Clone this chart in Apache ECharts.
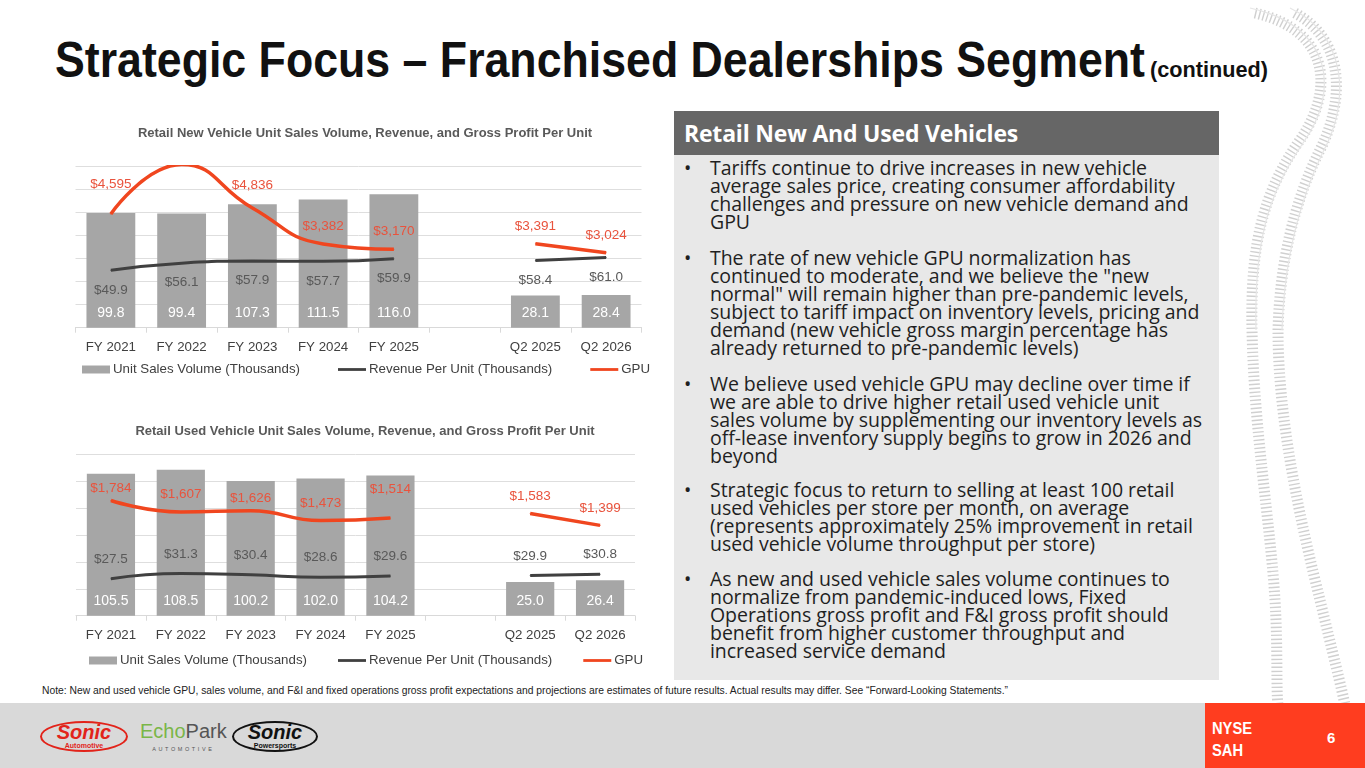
<!DOCTYPE html>
<html>
<head>
<meta charset="utf-8">
<script src="https://cdn.jsdelivr.net/npm/echarts@6/dist/echarts.min.js"></script>
<style>
  html, body { margin: 0; padding: 0; background: #fff; }
  #slide { position: relative; width: 1365px; height: 768px; overflow: hidden; background: #fff; font-family: "Liberation Sans", Arial, sans-serif; }
  .abs { position: absolute; }
  .narrow { transform-origin: 0 0; white-space: nowrap; }
  #title { left: 55px; top: 32px; font-family: "Liberation Sans", sans-serif; font-weight: bold; font-size: 50px; line-height: 56px; color: #111; }
  #titleSub { top: 57px; font-family: "Liberation Sans", sans-serif; font-weight: bold; font-size: 22px; line-height: 26px; color: #111; }
  #panelHead { left: 674px; top: 111px; width: 545px; height: 44px; background: #666; color: #fff; font-family: "Open Sans", sans-serif; font-weight: bold; font-size: 23px; line-height: 44px; box-sizing: border-box; padding-left: 10px; letter-spacing: -0.2px; }
  #panelBody { left: 674px; top: 155px; width: 545px; height: 525px; background: #E8E8E8; }
  .bullet { position: absolute; left: 36px; font-family: "Open Sans", sans-serif; font-size: 19.5px; line-height: 18.1px; color: #1f1f1f; white-space: nowrap; letter-spacing: -0.05px; }
  .bullet:before { content: "\2022"; position: absolute; left: -26px; }
  #note { left: 42px; top: 683px; font-family: "Liberation Sans", sans-serif; font-size: 11.5px; line-height: 14px; color: #222; }
  #footer { left: 0; top: 703px; width: 1365px; height: 65px; background: #D9D9D9; }
  #tag { left: 1205px; top: 703px; width: 160px; height: 65px; background: #FF3D1F; color: #fff; font-family: "Liberation Sans", sans-serif; font-weight: bold; }
  .logoOval { position: absolute; border-radius: 50%; box-sizing: border-box; text-align: center; font-family: "Liberation Sans", sans-serif; }
  .chart { position: absolute; width: 610px; height: 270px; }
</style>
</head>
<body>
<div id="slide">
  <!-- tire track decoration, right edge -->
  <svg class="abs" style="left:0;top:0" width="1365" height="705">
    <g fill="none">
      <path d="M1255,13 C1330,30 1335,90 1300,140 C1265,190 1250,240 1252,330 C1254,430 1270,520 1275,600 C1278,650 1276,690 1278,705" stroke="#D0D0D0" stroke-width="11" stroke-dasharray="1.4 2.6"/>
      <path d="M1295,13 C1345,40 1345,100 1320,150 C1295,200 1280,260 1278,330 C1278,420 1300,520 1320,600 C1332,650 1342,690 1345,705" stroke="#D0D0D0" stroke-width="11" stroke-dasharray="1.4 2.6"/>
      <path d="M1250,8 C1333,26 1340,92 1303,143 C1268,193 1254,242 1256,330" stroke="#E6E6E6" stroke-width="1.2"/>
      <path d="M1290,8 C1348,36 1350,102 1323,152 C1299,202 1284,262 1282,330" stroke="#E6E6E6" stroke-width="1.2"/>
    </g>
  </svg>

  <div id="title" class="abs narrow">Strategic Focus – Franchised Dealerships Segment</div>
  <div id="titleSub" class="abs narrow">(continued)</div>

  <div id="chartNew" class="chart" style="left:60px;top:110px"></div>
  <div id="chartUsed" class="chart" style="left:60px;top:405px"></div>

  <div id="panelHead" class="abs">Retail New And Used Vehicles</div>
  <div id="panelBody" class="abs">
    <div class="bullet" style="top:4px">Tariffs continue to drive increases in new vehicle<br>average sales price, creating consumer affordability<br>challenges and pressure on new vehicle demand and<br>GPU</div>
    <div class="bullet" style="top:94px">The rate of new vehicle GPU normalization has<br>continued to moderate, and we believe the "new<br>normal" will remain higher than pre-pandemic levels,<br>subject to tariff impact on inventory levels, pricing and<br>demand (new vehicle gross margin percentage has<br>already returned to pre-pandemic levels)</div>
    <div class="bullet" style="top:220px">We believe used vehicle GPU may decline over time if<br>we are able to drive higher retail used vehicle unit<br>sales volume by supplementing our inventory levels as<br>off-lease inventory supply begins to grow in 2026 and<br>beyond</div>
    <div class="bullet" style="top:326px">Strategic focus to return to selling at least 100 retail<br>used vehicles per store per month, on average<br>(represents approximately 25% improvement in retail<br>used vehicle volume throughput per store)</div>
    <div class="bullet" style="top:415px">As new and used vehicle sales volume continues to<br>normalize from pandemic-induced lows, Fixed<br>Operations gross profit and F&amp;I gross profit should<br>benefit from higher customer throughput and<br>increased service demand</div>
  </div>

  <div id="note" class="abs narrow">Note: New and used vehicle GPU, sales volume, and F&amp;I and fixed operations gross profit expectations and projections are estimates of future results. Actual results may differ. See “Forward-Looking Statements.”</div>

  <div id="footer" class="abs">
    <div class="logoOval" style="left:40px;top:18px;width:88px;height:31px;border:2px solid #E2231A;color:#E2231A">
      <div style="font-weight:bold;font-style:italic;font-size:20px;line-height:19px;margin-top:0px">Sonic</div>
      <div style="font-weight:bold;font-size:7px;line-height:7px">Automotive</div>
    </div>
    <div class="abs" style="left:140px;top:18px;font-family:'Liberation Sans',sans-serif;font-size:20px;line-height:21px">
      <span style="color:#7AB648">Echo</span><span style="color:#555">Park</span>
      <div style="font-size:5.5px;letter-spacing:2.6px;color:#555;text-align:center;line-height:8px;margin-top:3px">AUTOMOTIVE</div>
    </div>
    <div class="logoOval" style="left:232px;top:18px;width:86px;height:31px;border:2px solid #111;color:#111">
      <div style="font-weight:bold;font-style:italic;font-size:20px;line-height:19px;margin-top:0px">Sonic</div>
      <div style="font-weight:bold;font-size:7px;line-height:7px">Powersports</div>
    </div>
  </div>
  <div id="tag" class="abs">
    <div id="tagText" class="abs narrow" style="left:7px;top:15px;font-size:16px;line-height:22px">NYSE<br>SAH</div>
    <div class="abs" style="left:122px;top:26px;font-size:15px">6</div>
  </div>
</div>

<script>
// categories, with an empty slot separating full years from quarters
const categories = ['FY 2021', 'FY 2022', 'FY 2023', 'FY 2024', 'FY 2025', '', 'Q2 2025', 'Q2 2026']

// retail new vehicles
const newUnits = [99.8, 99.4, 107.3, 111.5, 116.0, null, 28.1, 28.4]
const newRevenue = [49.9, 56.1, 57.9, 57.7, 59.9, null, 58.4, 61.0]
const newGpu = [4595, 6591, 4836, 3382, 3170, null, 3391, 3024]

// retail used vehicles
const usedUnits = [105.5, 108.5, 100.2, 102.0, 104.2, null, 25.0, 26.4]
const usedRevenue = [27.5, 31.3, 30.4, 28.6, 29.6, null, 29.9, 30.8]
const usedGpu = [1784, 1607, 1626, 1473, 1514, null, 1583, 1399]

const unitsName = 'Unit Sales Volume (Thousands)'
const revenueName = 'Revenue Per Unit (Thousands)'
const gpuName = 'GPU'

const GREY_BAR = '#A6A6A6'
const DARK = '#404040'
const RED = '#F0461F'
const RED_TEXT = '#E9533D'
const LINE_ICON = 'path://M0,0 L30,0 L30,3 L0,3 Z'

// squeeze a text block horizontally to a target width (no condensed font installed)
function squeeze(id, targetWidth) {
  var el = document.getElementById(id)
  var w = el.getBoundingClientRect().width
  el.style.transform = 'scaleX(' + (targetWidth / w) + ')'
}
squeeze('title', 1090)
document.getElementById('titleSub').style.left = '1150px'
squeeze('titleSub', 118)
squeeze('note', 966)
squeeze('tagText', 40)

// GPU values become series items; labelShift moves single labels vertically (px, negative = up)
function gpuItems(values, labelShift) {
  return values.map(function (v, i) {
    if (v == null) return '-'
    var shift = labelShift[i] || 0
    if (!shift) return v
    return { value: v, label: { offset: [0, shift] } }
  })
}

function toSeries(arr) {
  return arr.map(function (v) { return v == null ? '-' : v })
}

function buildOption(cfg) {
  return {
    animation: false,
    textStyle: { fontFamily: 'Liberation Sans, Arial, sans-serif' },
    title: {
      text: cfg.title,
      left: 300,
      textAlign: 'center',
      top: cfg.titleTop,
      textStyle: { fontFamily: 'Liberation Sans, Arial, sans-serif', fontWeight: 'bold', fontSize: 13, color: '#595959' }
    },
    legend: {
      top: cfg.legendTop,
      left: cfg.legendLeft,
      width: 605 - cfg.legendLeft,
      padding: 0,
      itemGap: cfg.legendGap,
      itemWidth: 28,
      itemHeight: 8,
      textStyle: { color: DARK, fontSize: 13.3, padding: [0, 0, 0, -2] },
      data: [
        { name: unitsName, icon: 'rect' },
        { name: revenueName, icon: LINE_ICON },
        { name: gpuName, icon: LINE_ICON }
      ]
    },
    grid: cfg.grid,
    xAxis: {
      type: 'category',
      data: categories,
      axisLine: { lineStyle: { color: '#D9D9D9' } },
      axisTick: { show: true, length: 5, lineStyle: { color: '#D9D9D9' } },
      axisLabel: { color: DARK, fontSize: 13.3, margin: 13, interval: 0 }
    },
    yAxis: [{
      type: 'value',
      min: 0,
      max: cfg.unitMax,
      interval: 20,
      axisLabel: { show: false },
      axisLine: { show: false },
      axisTick: { show: false },
      splitLine: { lineStyle: { color: '#DEDEDE' } }
    }, {
      type: 'value',
      min: 0,
      max: cfg.gpuMax,
      show: false,
      splitLine: { show: false }
    }],
    series: [{
      name: unitsName,
      type: 'bar',
      data: toSeries(cfg.units),
      barWidth: '69%',
      itemStyle: { color: GREY_BAR },
      label: {
        show: true,
        position: 'insideBottom',
        distance: 8,
        color: '#fff',
        fontSize: 14,
        formatter: function (p) { return p.value.toFixed(1) }
      }
    }, {
      name: revenueName,
      type: 'line',
      yAxisIndex: 0,
      data: toSeries(cfg.revenue),
      smooth: true,
      symbol: 'circle',
      symbolSize: 1,
      itemStyle: { color: DARK },
      lineStyle: { color: DARK, width: 3 },
      label: {
        show: true,
        position: cfg.revLabelPos,
        distance: 12,
        color: '#595959',
        fontSize: 13.5,
        formatter: function (p) { return '$' + p.value.toFixed(1) }
      }
    }, {
      name: gpuName,
      type: 'line',
      yAxisIndex: 1,
      data: gpuItems(cfg.gpu, cfg.gpuLabelShift),
      smooth: true,
      symbol: 'circle',
      symbolSize: 1,
      itemStyle: { color: RED },
      lineStyle: { color: RED, width: 3.5 },
      label: {
        show: true,
        position: 'top',
        distance: 10,
        color: RED_TEXT,
        fontSize: 13.5,
        formatter: function (p) { return '$' + p.value.toLocaleString('en-US') }
      }
    }]
  }
}

var newChart = echarts.init(document.getElementById('chartNew'))
newChart.setOption(buildOption({
  title: 'Retail New Vehicle Unit Sales Volume, Revenue, and Gross Profit Per Unit',
  titleTop: 12,
  units: newUnits,
  revenue: newRevenue,
  gpu: newGpu,
  gpuLabelShift: { 0: -12, 2: -5 },
  unitMax: 140,
  gpuMax: 6500,
  revLabelPos: 'bottom',
  grid: { left: 15.5, right: 28.5, top: 56.7, bottom: 52.3 },
  legendTop: 253,
  legendLeft: 22,
  legendGap: 38
}))

var usedChart = echarts.init(document.getElementById('chartUsed'))
usedChart.setOption(buildOption({
  title: 'Retail Used Vehicle Unit Sales Volume, Revenue, and Gross Profit Per Unit',
  titleTop: 15,
  units: usedUnits,
  revenue: usedRevenue,
  gpu: usedGpu,
  gpuLabelShift: { 0: 5, 2: 5, 4: -11 },
  unitMax: 120,
  gpuMax: 2500,
  revLabelPos: 'top',
  grid: { left: 16, right: 35, top: 49.3, bottom: 59.3 },
  legendTop: 249,
  legendLeft: 29,
  legendGap: 31
}))
</script>
</body>
</html>
